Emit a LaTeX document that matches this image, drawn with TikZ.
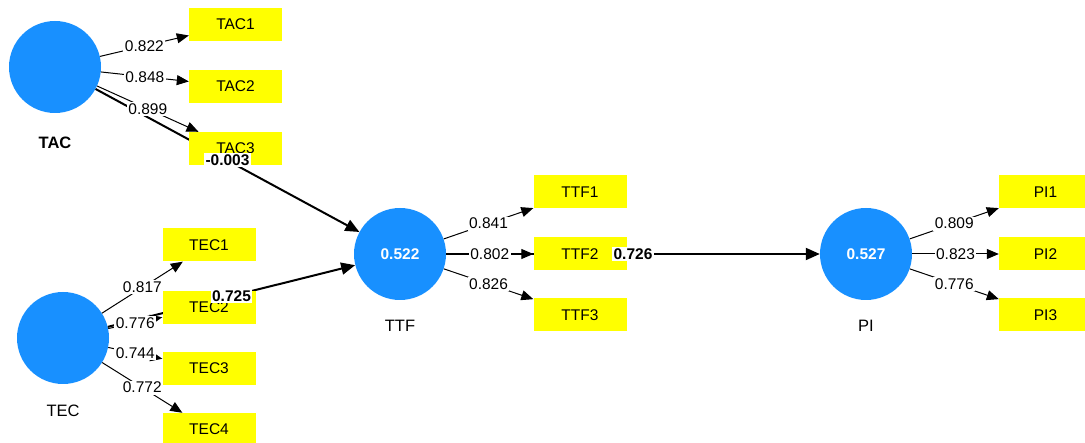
\documentclass[tikz,border=0pt]{standalone}
\usepackage{fontspec}
\setmainfont{Liberation Sans}
\usetikzlibrary{arrows.meta}
\definecolor{lvblue}{RGB}{24,144,255}
\definecolor{mvyellow}{RGB}{255,255,0}
\begin{document}
\begin{tikzpicture}[x=1pt,y=-1pt,
  lv/.style={circle,fill=lvblue,minimum size=92pt,inner sep=0pt,text=white,font=\fontsize{15.5}{17}\selectfont\bfseries},
  mv/.style={rectangle,fill=mvyellow,minimum width=93pt,minimum height=33pt,inner sep=0pt,font=\fontsize{15.5}{17}\selectfont},
  ttl/.style={font=\fontsize{16.5}{18}\selectfont},
  load/.style={draw=black,line width=1pt,-{Triangle[length=12pt,width=10pt]}},
  path/.style={draw=black,line width=2pt,-{Triangle[length=14pt,width=12pt]}},
  lbl/.style={fill=white,inner sep=1.5pt,font=\fontsize{15.5}{17}\selectfont},
  blbl/.style={fill=white,inner sep=1.5pt,font=\fontsize{15.5}{17}\selectfont\bfseries}
]
\useasboundingbox (0,0) rectangle (1085,443);
% latent variables
\node[lv] (TAC) at (55,67) {};
\node[lv] (TEC) at (63,338) {};
\node[lv] (TTF) at (400,254) {0.522};
\node[lv] (PI) at (866,254) {0.527};
\node[ttl,font=\fontsize{16.5}{18}\selectfont\bfseries] (TACl) at (55,143) {TAC};
\node[ttl] (TECl) at (63,411) {TEC};
\node[ttl] (TTFl) at (400,326) {TTF};
\node[ttl] (PIl) at (866,326) {PI};
% structural paths (lines)
\path[path] (TAC) -- (TTF);
\path[path] (TEC) -- (TTF);
\path[path] (TTF) -- (PI);
% indicator boxes
\node[mv] (TAC1) at (235.5,24.5) {TAC1};
\node[mv] (TAC2) at (235.5,86.5) {TAC2};
\node[mv] (TAC3) at (235.5,148.5) {TAC3};
\node[mv] (TEC1) at (209,245) {TEC1};
\node[mv] (TEC2) at (209,307.5) {TEC2};
\node[mv] (TEC3) at (209,368.5) {TEC3};
\node[mv] (TEC4) at (209,429.5) {TEC4};
\node[mv] (TTF1) at (580,192) {TTF1};
\node[mv] (TTF2) at (580,254) {TTF2};
\node[mv] (TTF3) at (580,315) {TTF3};
\node[mv] (PI1) at (1045.5,192) {PI1};
\node[mv] (PI2) at (1045.5,254) {PI2};
\node[mv] (PI3) at (1045.5,315) {PI3};
% loadings
\path[load] (TAC) -- node[lbl]{0.822} (TAC1);
\path[load] (TAC) -- node[lbl]{0.848} (TAC2);
\path[load] (TAC) -- node[lbl]{0.899} (TAC3);
\path[load] (TEC) -- node[lbl]{0.817} (TEC1);
\path[load] (TEC) -- node[lbl]{0.776} (TEC2);
\path[load] (TEC) -- node[lbl]{0.744} (TEC3);
\path[load] (TEC) -- node[lbl]{0.772} (TEC4);
\path[load] (TTF) -- node[lbl]{0.841} (TTF1);
\path[load] (TTF) -- node[lbl]{0.802} (TTF2);
\path[load] (TTF) -- node[lbl]{0.826} (TTF3);
\path[load] (PI) -- node[lbl]{0.809} (PI1);
\path[load] (PI) -- node[lbl]{0.823} (PI2);
\path[load] (PI) -- node[lbl]{0.776} (PI3);
% path coefficient labels
\path (TAC) -- node[blbl]{-0.003} (TTF);
\path (TEC) -- node[blbl]{0.725} (TTF);
\path (TTF) -- node[blbl]{0.726} (PI);
\end{tikzpicture}
\end{document}
